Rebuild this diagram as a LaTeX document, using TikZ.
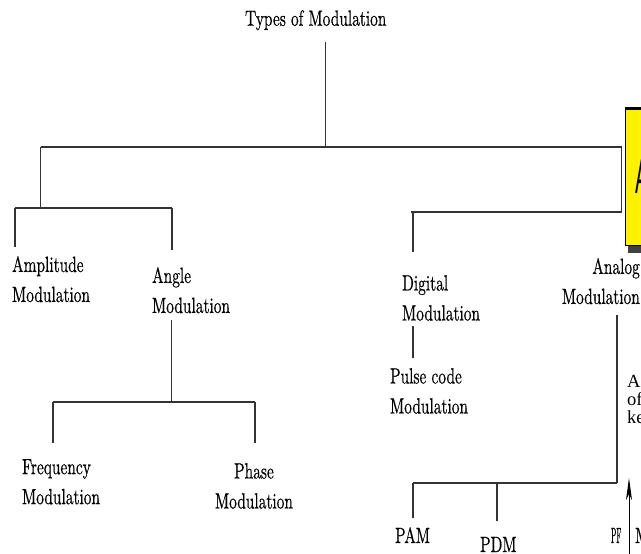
\documentclass[tikz,border=0pt]{standalone}
\usepackage{fontspec}
\newfontfamily\timesfont{Liberation Serif}
\newfontfamily\arialfont{Liberation Sans}
\newfontfamily\modfont{lmroman10-regular.otf}[FakeBold=0.6]
\usetikzlibrary{positioning,shadows,arrows.meta}
\tikzset {
    mod text/.style={
        font=\modfont\fontsize{22}{30}\selectfont,
        inner sep=0pt,
        align=left,
        xscale=.7, transform shape,
    },
    bar line/.style={
        draw=black!80,
        line width=1.5pt,
    },
    callout box/.style={
        fill=yellow,
        draw=black,
        line width=.8pt,
        rectangle, % Set the shape as a rectangle
        minimum width=60pt,
        minimum height=137pt,
        drop shadow={shadow xshift=3pt, shadow yshift=-8pt, fill=black!75, opacity=1},
    },
    callout letter/.style={
        font=\arialfont\fontsize{49}{49}\selectfont,
        inner sep=0pt,
        xscale=.42, transform shape,
    },
}

\begin{document}
\begin{tikzpicture}[x=1pt, y=-1pt]
\useasboundingbox (0,0) rectangle (641,554);

\node[mod text, anchor=north west] at (245,10) (types) {Types of Modulation};

\node[mod text, anchor=north west] at (12,256) (amp) {Amplitude\\Modulation};
\node[mod text, anchor=north west] at (152,267) (angle) {Angle\\Modulation};
\node[mod text, anchor=north west] at (22,459) (freq) {Frequency\\Modulation};
\node[mod text, anchor=north, align=center] at (254,463) (phase) {Phase\\Modulation};

\node[mod text, anchor=north west] at (402,275) (digital) {Digital\\Modulation};
\node[mod text, anchor=north west] at (390,368) (pcm) {Pulse code\\Modulation};
\node[mod text, anchor=north east, align=right] at (640,258) (analog) {Analog\\Modulation};

\node[mod text, anchor=base west] at (395,543) (pam) {PAM};
\node[mod text, anchor=base west] at (480,552) (pdm) {PDM};
\node[mod text, anchor=base west, xscale=.5] at (611,543) (ppm) {PF};
\node[mod text, anchor=base west] at (635,543) (more) {M};

\node[font=\timesfont\fontsize{18.5}{18}\selectfont, inner sep=0pt, align=left, anchor=north west] at (627,375) (note) {A\\of\\ke};

% yellow call-out on the right edge
\node[callout box, anchor=north west] at (625,108) (callout) {};
\draw[line width=3pt] (callout.north west) -- (callout.north east);
\node[callout letter, anchor=west] at ([xshift=10pt]callout.west) (calloutA) {A};

% joints of the tree
\coordinate (typesTop) at (325.7,41.7);
\coordinate (typesFoot) at (325.7,147);
\coordinate (mainL) at (40.7,147);
\coordinate (mainR) at (621.7,147);
\coordinate (leftJoin) at (40.7,208);
\coordinate (leftL) at (15,208);
\coordinate (leftR) at (172,208);
\coordinate (ampEnd) at (15,247);
\coordinate (angleEnd) at (172,250);
\coordinate (angleTop) at (171.5,320);
\coordinate (angleJoin) at (171.5,402);
\coordinate (angleL) at (53,402);
\coordinate (angleR) at (255,402);
\coordinate (freqEnd) at (53,443);
\coordinate (phaseEnd) at (255,443);
\coordinate (rightL) at (410.7,212);
\coordinate (rightR) at (621.7,212);
\coordinate (digitalJoin) at (413,212);
\coordinate (digitalEnd) at (413,251.7);
\coordinate (pcmTop) at (413,326);
\coordinate (pcmEnd) at (413,358);
\coordinate (analogTop) at (617,315);
\coordinate (analogJoin) at (617,483);
\coordinate (pulseL) at (413,483);
\coordinate (pamEnd) at (413,518);
\coordinate (pdmTop) at (497,483);
\coordinate (pdmEnd) at (497,521);
\coordinate (arrowFoot) at (629,554);
\coordinate (arrowTip) at (629,478);

\draw[bar line] (typesTop) -- (typesFoot);
\draw[bar line] (mainL) -- (mainR);
\draw[bar line] (mainL) -- (leftJoin);
\draw[bar line] (leftL) -- (leftR);
\draw[bar line] (leftL) -- (ampEnd);
\draw[bar line] (leftR) -- (angleEnd);
\draw[bar line] (angleTop) -- (angleJoin);
\draw[bar line] (angleL) -- (angleR);
\draw[bar line] (angleL) -- (freqEnd);
\draw[bar line] (angleR) -- (phaseEnd);
\draw[bar line] (mainR) -- (rightR);
\draw[bar line] (rightL) -- (rightR);
\draw[bar line] (digitalJoin) -- (digitalEnd);
\draw[bar line] (pcmTop) -- (pcmEnd);
\draw[bar line] (analogTop) -- (analogJoin);
\draw[bar line] (pulseL) -- (analogJoin);
\draw[bar line] (pulseL) -- (pamEnd);
\draw[bar line] (pdmTop) -- (pdmEnd);
\draw[line width=1pt, -{Stealth[length=22pt, width=6pt, inset=6pt]}] (arrowFoot) -- (arrowTip);
\end{tikzpicture}
\end{document}
